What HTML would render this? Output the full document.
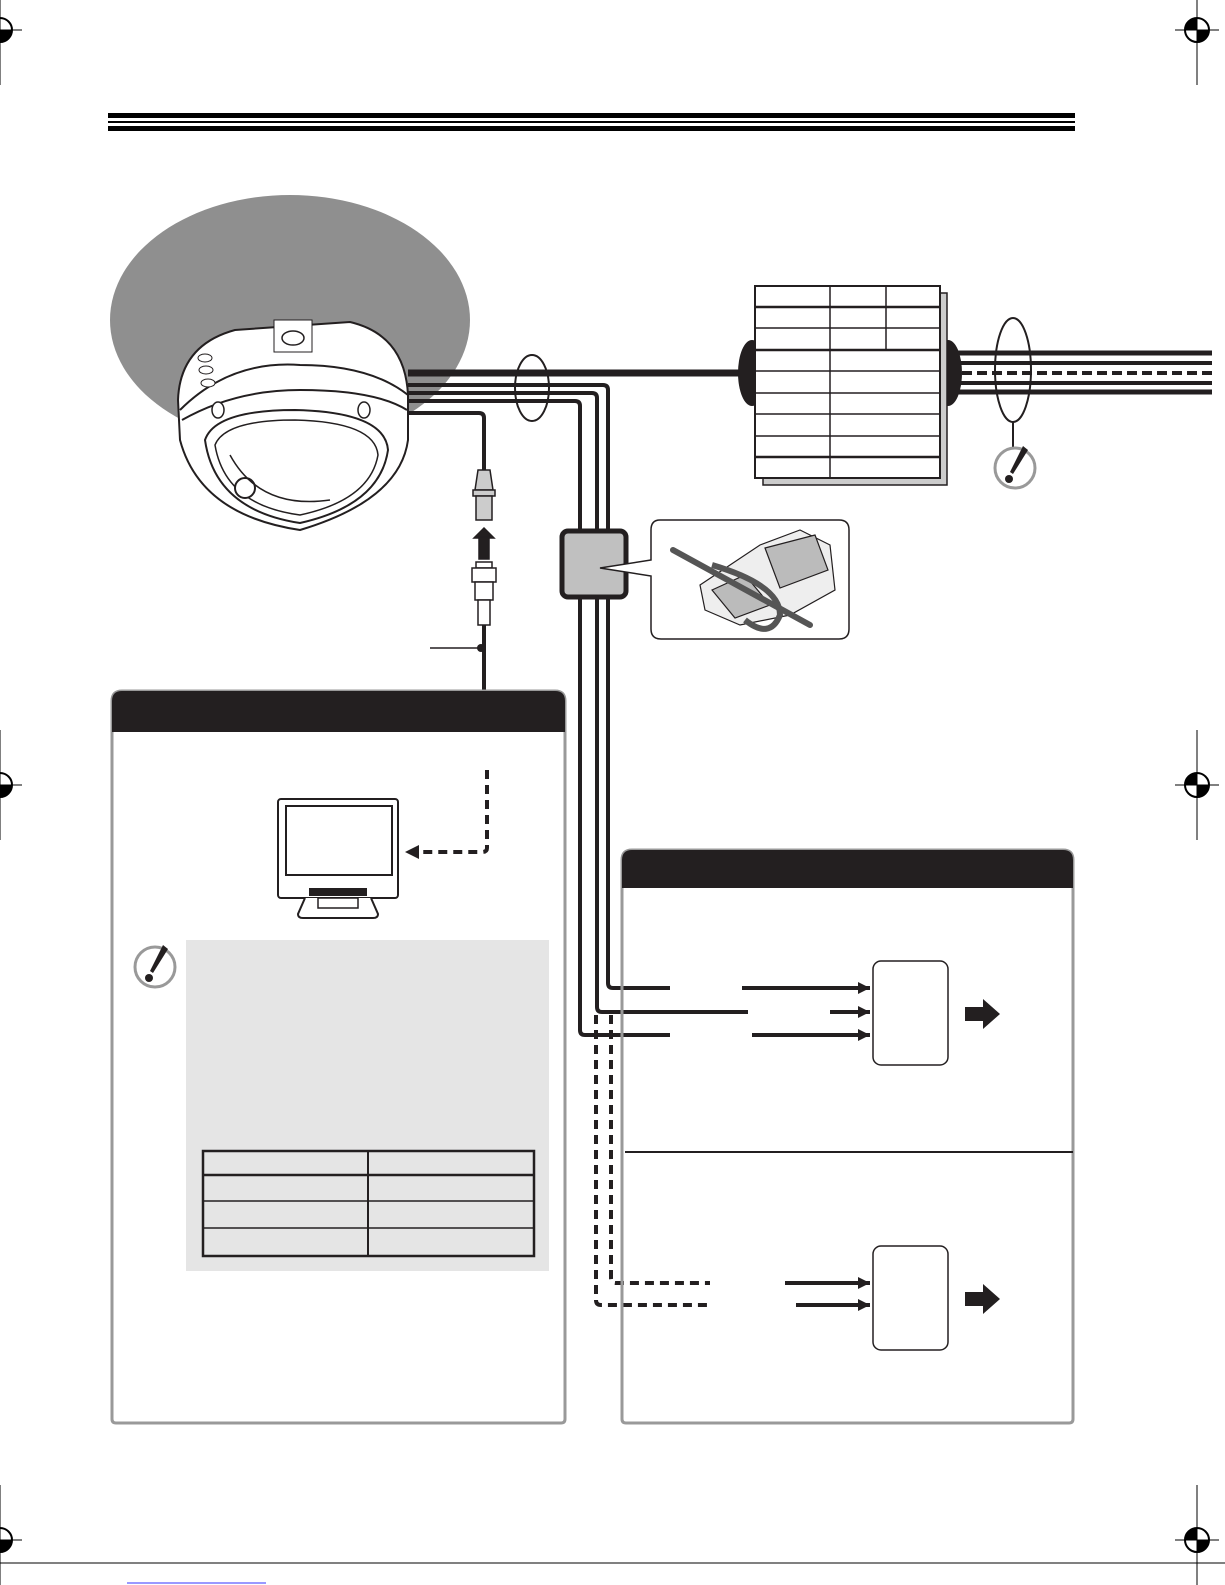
<!DOCTYPE html>
<html><head><meta charset="utf-8"><style>html,body{margin:0;padding:0;background:#fff}svg{display:block}</style></head>
<body>
<svg width="1225" height="1585" viewBox="0 0 1225 1585" xmlns="http://www.w3.org/2000/svg">
<defs>
<g id="reg"><circle r="12" fill="none" stroke="#000" stroke-width="2"/><path d="M-12 0A12 12 0 0 1 0 -12V0Z M12 0A12 12 0 0 1 0 12V0Z" fill="#000"/><path d="M-22 0H22M0 -55V55" stroke="#000" stroke-width="1"/></g>
<marker id="ah" markerWidth="3" markerHeight="3" refX="3" refY="1.5" orient="auto" markerUnits="strokeWidth"><path d="M0 0L3 1.5L0 3Z" fill="#231f20"/></marker>
<g id="note"><circle r="20" fill="#fff" stroke="#999" stroke-width="3"/><path d="M8 -22L13 -18L-2 6L-5 4Z" fill="#231f20"/><circle cx="-6" cy="11" r="4" fill="#231f20"/></g>
</defs>
<use href="#reg" x="0" y="30"/><use href="#reg" x="1197" y="30"/>
<use href="#reg" x="0" y="785"/><use href="#reg" x="1197" y="785"/>
<use href="#reg" x="0" y="1540"/><use href="#reg" x="1197" y="1540"/>
<line x1="0" y1="1563" x2="1225" y2="1563" stroke="#000" stroke-width="1"/>
<line x1="127" y1="1583" x2="266" y2="1583" stroke="#33f" stroke-width="1"/>
<rect x="108" y="113" width="967" height="5" fill="#000"/>
<rect x="108" y="121" width="967" height="2" fill="#000"/>
<rect x="108" y="126" width="967" height="5" fill="#000"/>

<ellipse cx="290" cy="320" rx="180" ry="125" fill="#8f8f8f"/>
<g stroke="#231f20" stroke-width="2" fill="#fff">
<path d="M178 400 Q180 345 235 330 L350 322 Q405 335 408 395 L408 440 Q400 500 300 530 Q200 515 180 440Z"/>
<path d="M274 320 L312 320 L312 352 L274 352Z" stroke-width="1"/>
<ellipse cx="293" cy="338" rx="11" ry="7" stroke-width="1.5"/>
<path d="M180 410 Q230 360 300 365 Q370 365 408 395" fill="none"/>
<path d="M182 420 Q235 390 300 390 Q375 390 407 410" fill="none"/>
<path d="M205 440 Q215 410 295 410 Q385 412 388 450 Q380 505 300 523 Q215 510 205 440Z"/>
<path d="M215 445 Q225 420 295 420 Q375 422 378 455 Q370 500 300 515 Q225 505 215 445Z" fill="none" stroke-width="1.5"/>
<circle cx="245" cy="488" r="10"/>
<path d="M230 455 Q260 510 330 500" fill="none" stroke-width="1.5"/>
<ellipse cx="218" cy="410" rx="6" ry="8" stroke-width="1.5"/><ellipse cx="364" cy="410" rx="6" ry="8" stroke-width="1.5"/>
<ellipse cx="205" cy="358" rx="7" ry="4" stroke-width="1"/><ellipse cx="206" cy="370" rx="7" ry="4" stroke-width="1"/><ellipse cx="208" cy="383" rx="7" ry="4" stroke-width="1"/>
</g>

<g fill="none" stroke="#231f20" stroke-linejoin="round">
<line x1="408" y1="373" x2="745" y2="373" stroke-width="7"/>
<path d="M408 385 H603 Q608 385 608 390 V983 Q608 988 613 988 H670" stroke-width="4"/>
<path d="M408 393 H592 Q597 393 597 398 V1007 Q597 1012 602 1012 H748" stroke-width="4"/>
<path d="M408 401 H575 Q580 401 580 406 V1030 Q580 1035 585 1035 H670" stroke-width="4"/>
<path d="M408 413 H479 Q484 413 484 418 V470" stroke-width="4"/>
<line x1="484" y1="625" x2="484" y2="692" stroke-width="4"/>
<path d="M611 1015 V1278 Q611 1283 616 1283 H710" stroke-width="4" stroke-dasharray="9,6"/>
<path d="M596 1015 V1300 Q596 1305 601 1305 H712" stroke-width="4" stroke-dasharray="9,6"/>
<line x1="742" y1="988" x2="870" y2="988" stroke-width="4" marker-end="url(#ah)"/>
<line x1="830" y1="1012" x2="870" y2="1012" stroke-width="4" marker-end="url(#ah)"/>
<line x1="752" y1="1035" x2="870" y2="1035" stroke-width="4" marker-end="url(#ah)"/>
<line x1="785" y1="1283" x2="870" y2="1283" stroke-width="4" marker-end="url(#ah)"/>
<line x1="796" y1="1305" x2="870" y2="1305" stroke-width="4" marker-end="url(#ah)"/>
</g>
<ellipse cx="532" cy="388" rx="17" ry="33" fill="none" stroke="#231f20" stroke-width="2"/>
<g stroke="#231f20" stroke-width="1.5">
<path d="M478 470 L490 470 L493 490 L475 490Z" fill="#ccc"/>
<rect x="473" y="490" width="22" height="6" fill="#ccc"/>
<rect x="476" y="496" width="16" height="24" fill="#ccc"/>
<path d="M474 538 H494 L484 528Z" fill="#231f20"/><rect x="479" y="537" width="10" height="22" fill="#231f20"/>
<rect x="476" y="562" width="16" height="6" fill="#fff"/>
<rect x="472" y="568" width="24" height="14" fill="#fff"/>
<rect x="475" y="582" width="18" height="18" fill="#fff"/>
<rect x="478" y="600" width="12" height="25" fill="#fff"/>
</g>
<line x1="430" y1="648" x2="480" y2="648" stroke="#231f20" stroke-width="1.5"/>
<circle cx="481" cy="648" r="4" fill="#231f20"/>

<rect x="562" y="531" width="64" height="66" rx="6" fill="#c0c0c0" stroke="#231f20" stroke-width="5"/>
<path d="M660 520 H839 Q849 520 849 530 V629 Q849 639 839 639 H661 Q651 639 651 629 V576 L600 568 L651 560 V530 Q651 520 660 520Z" fill="#fff" stroke="#231f20" stroke-width="1.5"/>
<g stroke="#231f20" stroke-width="1.2">
<path d="M700 585 L760 545 L800 530 L830 545 L835 590 L790 615 L740 625 L705 610Z" fill="#eee"/>
<path d="M765 548 L815 535 L828 570 L780 588Z" fill="#bbb"/>
<path d="M712 590 L745 575 L770 605 L735 618Z" fill="#bbb"/>
</g>
<line x1="673" y1="550" x2="810" y2="625" stroke="#555" stroke-width="6" stroke-linecap="round"/>
<path d="M712 565 Q780 585 780 615 Q770 640 745 620" fill="none" stroke="#555" stroke-width="6"/>

<ellipse cx="752" cy="373" rx="14" ry="33" fill="#231f20"/>
<ellipse cx="948" cy="373" rx="14" ry="33" fill="#231f20"/>
<rect x="763" y="293" width="184" height="192" fill="#ccc" stroke="#231f20" stroke-width="1.5"/>
<g stroke="#231f20" fill="none">
<rect x="755" y="286" width="185" height="192" fill="#fff" stroke-width="2"/>
<path d="M755 307H940M755 350H940M755 457H940" stroke-width="2.5"/>
<path d="M755 328H940M755 371H940M755 393H940M755 414H940M755 436H940" stroke-width="1.5"/>
<path d="M830 286V478M886 286V350" stroke-width="1.5"/>
</g>
<g stroke="#231f20">
<line x1="958" y1="353" x2="1212" y2="353" stroke-width="5"/>
<line x1="958" y1="363" x2="1212" y2="363" stroke-width="4"/>
<line x1="962" y1="373" x2="1212" y2="373" stroke-width="4" stroke-dasharray="10,5"/>
<line x1="958" y1="383" x2="1212" y2="383" stroke-width="4"/>
<line x1="958" y1="392" x2="1212" y2="392" stroke-width="5"/>
</g>
<ellipse cx="1013" cy="370" rx="18" ry="52" fill="none" stroke="#231f20" stroke-width="2"/>
<line x1="1013" y1="421" x2="1013" y2="450" stroke="#231f20" stroke-width="2"/>
<use href="#note" x="1015" y="468"/>

<path d="M122 691 H555 Q565 691 565 701 V1419 Q565 1423 561 1423 H116 Q112 1423 112 1419 V701 Q112 691 122 691Z" fill="#fff" stroke="#999" stroke-width="3"/>
<path d="M122 691 H555 Q565 691 565 701 V732 H112 V701 Q112 691 122 691Z" fill="#231f20"/>
<g stroke="#231f20" stroke-width="2" fill="#fff">
<rect x="278" y="799" width="120" height="99" rx="3"/>
<rect x="286" y="806" width="106" height="69"/>
<rect x="310" y="889" width="56" height="6" fill="#231f20"/>
<path d="M305 898 L298 914 Q298 918 303 918 H373 Q378 918 378 914 L371 898" />
<rect x="318" y="898" width="40" height="10" stroke-width="1.5"/>
</g>
<path d="M487 770 V848 Q487 852 482 852 H418" fill="none" stroke="#231f20" stroke-width="4" stroke-dasharray="9,6"/>
<path d="M405 852 L419 845 V859Z" fill="#231f20"/>
<use href="#note" x="155" y="967"/>
<rect x="186" y="940" width="363" height="331" fill="#e5e5e5"/>
<g stroke="#231f20" fill="none">
<rect x="203" y="1151" width="331" height="105" stroke-width="2.5"/>
<line x1="203" y1="1175" x2="534" y2="1175" stroke-width="2.5"/>
<line x1="203" y1="1201" x2="534" y2="1201" stroke-width="1.5"/>
<line x1="203" y1="1228" x2="534" y2="1228" stroke-width="1.5"/>
<line x1="368" y1="1151" x2="368" y2="1256" stroke-width="2"/>
</g>

<path d="M632 850 H1063 Q1073 850 1073 860 V1419 Q1073 1423 1069 1423 H626 Q622 1423 622 1419 V860 Q622 850 632 850Z" fill="none" stroke="#999" stroke-width="3"/>
<path d="M632 850 H1063 Q1073 850 1073 860 V888 H622 V860 Q622 850 632 850Z" fill="#231f20"/>
<line x1="625" y1="1152" x2="1073" y2="1152" stroke="#231f20" stroke-width="2"/>
<rect x="873" y="961" width="75" height="104" rx="8" fill="#fff" stroke="#231f20" stroke-width="1.5"/>
<rect x="873" y="1246" width="75" height="104" rx="8" fill="#fff" stroke="#231f20" stroke-width="1.5"/>
<path d="M965 1007 H983 V999 L1000 1014 L983 1029 V1021 H965Z" fill="#231f20"/>
<path d="M965 1292 H983 V1284 L1000 1299 L983 1314 V1306 H965Z" fill="#231f20"/>
</svg>
</body></html>
